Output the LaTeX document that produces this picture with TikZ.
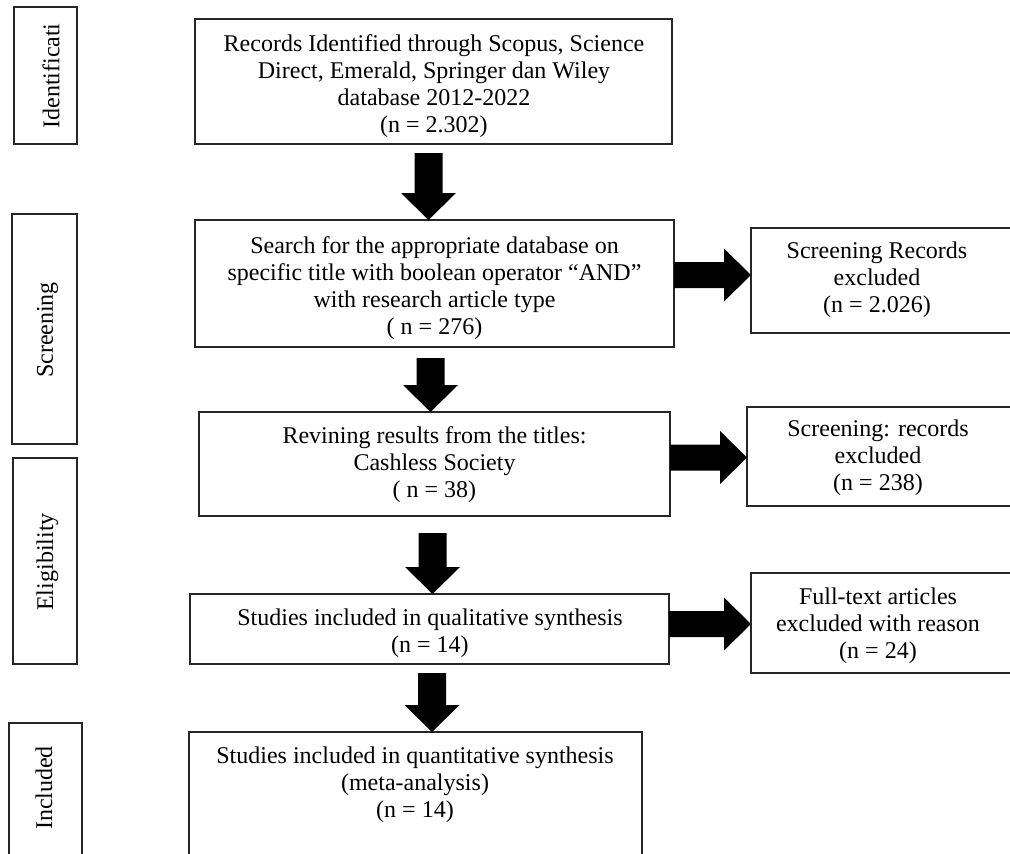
\documentclass[tikz,border=0pt]{standalone}
\usepackage{fontspec}
\setmainfont{Liberation Serif}
\usetikzlibrary{calc}
\tikzset{
  box/.style={draw=black!85, line width=1.2pt, inner sep=0pt, outer sep=0pt, rectangle},
  txt/.style={align=center, inner sep=0pt, font=\fontsize{24}{27}\selectfont},
  side/.style={rotate=90, inner sep=0pt, font=\fontsize{24}{27}\selectfont},
  arrowfill/.style={fill=black}
}
\newcommand{\downblock}[4]{%
  \fill[arrowfill] let \p1=(#1.south), \p2=(#2.north) in
   (#3pt-14pt,\y1-#4pt) -- (#3pt+14pt,\y1-#4pt) -- (#3pt+14pt,\y2+27pt) --
   (#3pt+27.5pt,\y2+27pt) -- (#3pt,\y2) -- (#3pt-27.5pt,\y2+27pt) --
   (#3pt-14pt,\y2+27pt) -- cycle;}
\newcommand{\rightblock}[3]{%
  \fill[arrowfill] let \p1=(#1.east), \p2=(#2.west) in
   (\x1,-#3pt+13pt) -- (\x2-27pt,-#3pt+13pt) -- (\x2-27pt,-#3pt+26.5pt) --
   (\x2,-#3pt) -- (\x2-27pt,-#3pt-26.5pt) -- (\x2-27pt,-#3pt-13pt) --
   (\x1,-#3pt-13pt) -- cycle;}
\begin{document}
\begin{tikzpicture}[x=1pt,y=-1pt]
\useasboundingbox (0,0) rectangle (1010,854);
% stage labels
\node[box, minimum width=63pt, minimum height=137pt] (L1) at (45.5,75.5) {};
\node[side] (l1t) at (51,76) {Identificati};
\node[box, minimum width=65pt, minimum height=230pt] (L2) at (44.5,329) {};
\node[side] (l2t) at (47.5,330) {Screening};
\node[box, minimum width=64pt, minimum height=206pt] (L3) at (45,561) {};
\node[side] (l3t) at (47.5,562) {Eligibility};
\node[box, minimum width=73pt, minimum height=157pt] (L4) at (45.5,801.5) {};
\node[side] (l4t) at (44,788) {Included};
% main boxes
\node[box, minimum width=477pt, minimum height=125pt] (b1) at (433.5,81.5) {};
\node[txt] (t1) at (434,86) {Records Identified through Scopus, Science\\Direct, Emerald, Springer dan Wiley\\database 2012-2022\\(n = 2.302)};
\node[box, minimum width=479pt, minimum height=127pt] (b2) at (434.5,283.5) {};
\node[txt] (t2) at (434.5,288) {Search for the appropriate database on\\specific title with boolean operator “AND”\\with research article type\\( n = 276)};
\node[box, minimum width=471pt, minimum height=104pt] (b3) at (434.5,464) {};
\node[txt] (t3) at (434.5,465) {Revining results from the titles:\\Cashless Society\\( n = 38)};
\node[box, minimum width=479pt, minimum height=70pt] (b4) at (429.5,629) {};
\node[txt] (t4) at (430,633) {Studies included in qualitative synthesis\\(n = 14)};
\node[box, minimum width=453pt, minimum height=148pt] (b5) at (415.5,806) {};
\node[txt] (t5) at (415,785) {Studies included in quantitative synthesis\\(meta-analysis)\\(n = 14)};
% side boxes
\node[box, minimum width=264pt, minimum height=105pt] (s1) at (883,280.5) {};
\node[txt] (ts1) at (877,280) {Screening Records\\excluded\\(n = 2.026)};
\node[box, minimum width=268pt, minimum height=99pt] (s2) at (881,456.5) {};
\node[txt] (ts2) at (878,458) {Screening: records\\excluded\\(n = 238)};
\node[box, minimum width=264pt, minimum height=100pt] (s3) at (883,623) {};
\node[txt] (ts3) at (878,626) {Full-text articles\\excluded with reason\\(n = 24)};
% block arrows
\downblock{b1}{b2}{428.5}{9}
\downblock{b2}{b3}{430.5}{11}
\downblock{b3}{b4}{432.5}{17}
\downblock{b4}{b5}{432}{9}
\rightblock{b2}{s1}{275}
\rightblock{b3}{s2}{457.5}
\rightblock{b4}{s3}{624}
\end{tikzpicture}
\end{document}
